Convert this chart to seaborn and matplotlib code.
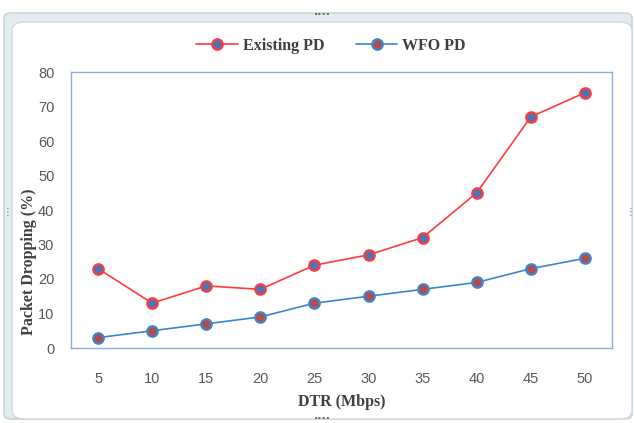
import matplotlib
matplotlib.use("Agg")
import matplotlib.pyplot as plt
from matplotlib.patches import FancyBboxPatch
from matplotlib.lines import Line2D
import pandas as pd
import seaborn as sns

# Data rate categories (Mbps) and packet dropping (%)
dtr = ["5", "10", "15", "20", "25", "30", "35", "40", "45", "50"]
existing_pd = [23, 13, 18, 17, 24, 27, 32, 45, 67, 74]
wfo_pd = [3, 5, 7, 9, 13, 15, 17, 19, 23, 26]
y_ticks = [0, 10, 20, 30, 40, 50, 60, 70, 80]

red = "#ff3b3b"
blue = "#3a86cf"
mk_blue = "#4f73b8"
mk_red = "#b94a48"

sns.set_style("white")
plt.rcParams["font.family"] = ["Liberation Sans", "DejaVu Sans"]

W, H = 634, 423
fig = plt.figure(figsize=(W / 100, H / 100), dpi=100)
fig.patch.set_facecolor("white")

# Chart frame with rounded corners, kept behind the axes
frame_outer = FancyBboxPatch((4 / W, 4 / H), (W - 6) / W, (H - 17) / H,
                             boxstyle="round,pad=0,rounding_size=0.012",
                             transform=fig.transFigure, facecolor="#e3ecee",
                             edgecolor="#c9d6da", linewidth=1.2, zorder=-3)
frame_inner = FancyBboxPatch((12 / W, 4 / H), (W - 14) / W, (H - 26) / H,
                             boxstyle="round,pad=0,rounding_size=0.02",
                             transform=fig.transFigure, facecolor="white",
                             edgecolor="#cfd9dc", linewidth=1.0, zorder=-2)
fig.patches.extend([frame_outer, frame_inner])
fig.text(322 / W, 1 - 15 / H, "····", ha="center", va="center", fontsize=8,
         color="#6a6a6a", family="DejaVu Sans", fontweight="bold")
fig.text(322 / W, 1 - 419 / H, "····", ha="center", va="center", fontsize=8,
         color="#6a6a6a", family="DejaVu Sans", fontweight="bold")
for fx in (7, 630):
    fig.text(fx / W, 1 - 212 / H, "⋮", ha="center", va="center", fontsize=7,
             color="#7a7a7a", family="DejaVu Sans")

ax = fig.add_axes([71 / W, 1 - 348 / H, (612 - 71) / W, (348 - 72) / H])
ax.set_facecolor("white")

df = pd.DataFrame({"DTR": dtr, "Existing PD": existing_pd, "WFO PD": wfo_pd})

styles = [("Existing PD", red, mk_blue), ("WFO PD", blue, mk_red)]
for col, line_c, face_c in styles:
    n_before = len(ax.lines)
    sns.pointplot(data=df, x="DTR", y=col, order=dtr, color=line_c,
                  errorbar=None, markers="o", ax=ax, markersize=7.5,
                  markeredgewidth=1.6, linewidth=1.2)
    for ln in ax.lines[n_before:]:
        ln.set_color(line_c)
        ln.set_markerfacecolor(face_c)
        ln.set_markeredgecolor(line_c)
        ln.set_markeredgewidth(1.6)
        ln.set_markersize(7.5)

ax.set_xlim(-0.5, len(dtr) - 0.5)
ax.set_ylim(0, 80)
ax.set_yticks(y_ticks)
ax.set_xlabel("")
ax.set_ylabel("")
ax.tick_params(axis="both", length=0, labelsize=10.5, labelcolor="#595959")
ax.tick_params(axis="y", pad=12)
ax.tick_params(axis="x", pad=17)
for s in ax.spines.values():
    s.set_visible(True)
    s.set_color("#8faadc")
    s.set_linewidth(1.0)
ax.grid(False)

fig.text(342 / W, 1 - 402 / H, "DTR (Mbps)", ha="center", va="center",
         fontsize=11.5, fontweight="bold", color="#404040",
         family=["Liberation Serif", "DejaVu Serif"])
fig.text(29 / W, 1 - 262 / H, "Packet Dropping (%)", ha="center", va="center",
         rotation=90, fontsize=11.5, fontweight="bold", color="#404040",
         family=["Liberation Serif", "DejaVu Serif"])

handles = [
    Line2D([], [], color=red, lw=1.2, marker="o", markersize=7.5,
           markerfacecolor=mk_blue, markeredgecolor=red, markeredgewidth=1.6),
    Line2D([], [], color=blue, lw=1.2, marker="o", markersize=7.5,
           markerfacecolor=mk_red, markeredgecolor=blue, markeredgewidth=1.6),
]
leg = fig.legend(handles, ["Existing PD", "WFO PD"], loc="center",
                 bbox_to_anchor=(331 / W, 1 - 46 / H), ncol=2, frameon=False,
                 handlelength=2.6, columnspacing=2.0, handletextpad=0.3,
                 prop={"family": ["Liberation Serif", "DejaVu Serif"],
                       "weight": "bold", "size": 11.5})
for t in leg.get_texts():
    t.set_color("#404040")

fig.savefig("out.png", dpi=100, facecolor=fig.get_facecolor())
